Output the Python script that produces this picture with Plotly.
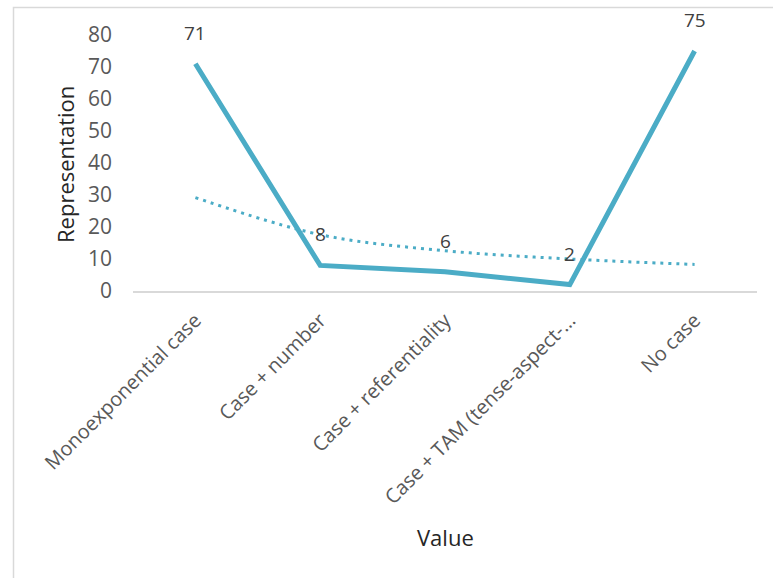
import plotly.graph_objects as go

# Categories and counts
categories = [
    "Monoexponential case",
    "Case + number",
    "Case + referentiality",
    "Case + TAM (tense-aspect-…",
    "No case",
]
values = [71, 8, 6, 2, 75]
# Fitted trend (dotted) at each category
trend = [29.2, 17.6, 12.6, 10.0, 8.3]
y_ticks = [0, 10, 20, 30, 40, 50, 60, 70, 80]

LINE_COLOR = "#4BACC6"
TEXT_COLOR = "#595959"
FONT = "Open Sans"

W, H = 773, 578
L, R, T, B = 133, 16, 35, 287

fig = go.Figure()

fig.add_trace(go.Scatter(
    x=categories, y=trend, mode="lines",
    line=dict(color=LINE_COLOR, width=3, dash="3px,5px", shape="spline"),
    hoverinfo="skip", showlegend=False,
))
fig.add_trace(go.Scatter(
    x=categories, y=values, mode="lines",
    line=dict(color=LINE_COLOR, width=5),
    showlegend=False,
))

# Value labels above each point
for c, v in zip(categories, values):
    fig.add_annotation(
        x=c, y=v, text=str(v), showarrow=False, yshift=31,
        font=dict(family=FONT, size=19, color="#404040"),
    )

plot_w = W - L - R
plot_h = H - T - B

# Axis titles
fig.add_annotation(
    xref="paper", yref="paper", x=(65 - L) / plot_w, y=(H - B - 165) / plot_h,
    text="Representation", textangle=-90, showarrow=False,
    xanchor="center", yanchor="middle",
    font=dict(family=FONT, size=22, color="#262626"),
)
fig.add_annotation(
    xref="paper", yref="paper", x=(445 - L) / plot_w, y=(H - B - 537) / plot_h,
    text="Value", showarrow=False, xanchor="center", yanchor="middle",
    font=dict(family=FONT, size=22, color="#262626"),
)

# Chart-area frame
fig.add_shape(
    type="rect", xref="paper", yref="paper",
    x0=(13.5 - L) / plot_w, x1=1.2,
    y0=-1.3, y1=(H - B - 7.5) / plot_h,
    line=dict(color="#D9D9D9", width=1.5), fillcolor="rgba(0,0,0,0)", layer="below",
)

fig.update_layout(
    width=W, height=H,
    margin=dict(l=L, r=R, t=T, b=B),
    paper_bgcolor="white", plot_bgcolor="white",
    font=dict(family=FONT, color=TEXT_COLOR),
    xaxis=dict(
        type="category", range=[-0.5, 4.5],
        showgrid=False, zeroline=False,
        showline=True, linecolor="#D9D9D9", linewidth=1.5,
        tickangle=-45, tickfont=dict(size=20, color=TEXT_COLOR),
        ticks="", ticklabelstandoff=8,
    ),
    yaxis=dict(
        range=[0, 80], tickvals=y_ticks,
        showgrid=False, zeroline=False, showline=False,
        tickfont=dict(size=21, color=TEXT_COLOR),
        ticks="", ticklabelstandoff=20,
    ),
)

fig.write_html("out.html")
